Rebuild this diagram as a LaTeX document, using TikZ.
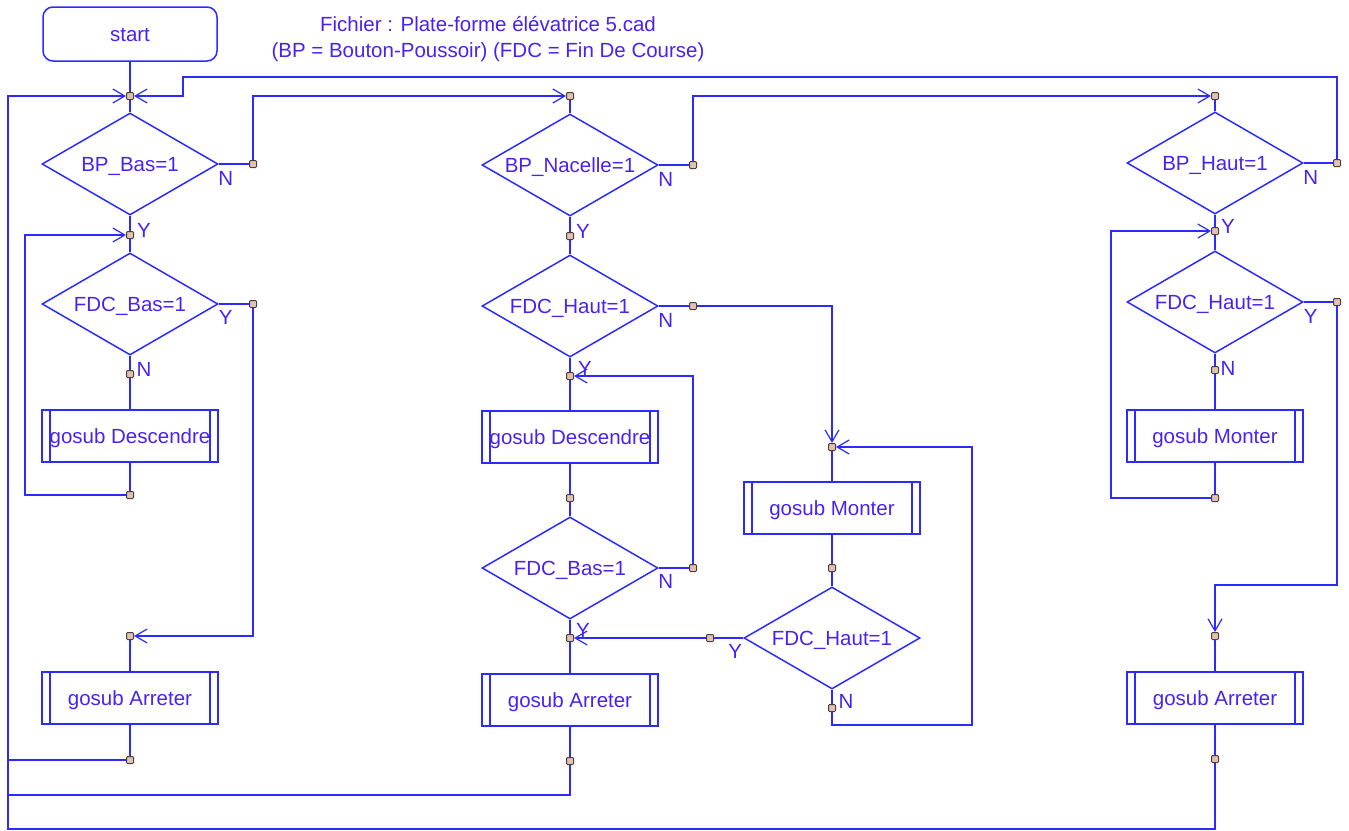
\documentclass[tikz,border=0pt]{standalone}
\usepackage{fontspec}
\setmainfont{Liberation Sans}
\usepackage{xcolor}
\definecolor{cadblue}{HTML}{2B2BFF}
\definecolor{cadtext}{HTML}{4A22F0}
\definecolor{dotfill}{HTML}{E0C2AE}
\definecolor{dotedge}{HTML}{4A4040}
\usepackage{tikz}
\usetikzlibrary{shapes.geometric, arrows.meta, positioning}
\tikzset{
  startbox/.style={rectangle, rounded corners=10pt, draw=cadblue, line width=1.5pt, text=cadtext,
                   minimum width=174pt, minimum height=54pt, inner sep=0pt, text height=14pt, text depth=0pt,
                   font=\fontsize{20.5}{24}\selectfont},
  decide/.style  ={diamond, aspect=1.72, draw=cadblue, line width=1.5pt, text=cadtext, inner sep=0pt,
                   minimum width=176pt, minimum height=102pt, text height=14pt, text depth=0pt,
                   font=\fontsize{20.5}{24}\selectfont},
  subbox/.style  ={rectangle, draw=cadblue, line width=1.5pt, text=cadtext, inner sep=0pt,
                   minimum width=176pt, minimum height=52pt, text height=14pt, text depth=0pt,
                   font=\fontsize{20.5}{24}\selectfont,
                   path picture={\draw[cadblue, line width=1.5pt]
                     ([xshift=8pt]path picture bounding box.north west) -- ([xshift=8pt]path picture bounding box.south west)
                     ([xshift=-8pt]path picture bounding box.north east) -- ([xshift=-8pt]path picture bounding box.south east);}},
  jdot/.style    ={rectangle, rounded corners=1pt, fill=dotfill, draw=dotedge, line width=1pt,
                   minimum size=7pt, inner sep=0pt},
  flow/.style    ={draw=cadblue, line width=1.5pt},
  flowarr/.style ={flow, -{Straight Barb[length=12pt, width=14pt, line width=1.2pt]}},
  yn/.style      ={text=cadtext, inner sep=0pt, font=\fontsize{20.5}{24}\selectfont},
  titletxt/.style={text=cadtext, align=center, inner sep=0pt, font=\fontsize{20.5}{26}\selectfont},
}

\begin{document}
\begin{tikzpicture}[x=1pt, y=-1pt]
  \useasboundingbox (0,0) rectangle (1349,830);

  \node[startbox] (start) at (130,34) {start};
  \node[titletxt] (title) at (488,39) {Fichier : Plate-forme élévatrice 5.cad\\(BP = Bouton-Poussoir) (FDC = Fin De Course)};

  % colonne gauche : descente
  \node[decide] (bpbas)   at (130,164) {BP\_Bas=1};
  \node[decide] (fdcbas)  at (130,304) {FDC\_Bas=1};
  \node[subbox] (desc1)   at (130,436) {gosub Descendre};
  \node[subbox] (arr1)    at (130,698) {gosub Arreter};

  % colonne du milieu : nacelle
  \node[decide] (nacelle) at (570,165) {BP\_Nacelle=1};
  \node[decide] (fdchaut1) at (570,306) {FDC\_Haut=1};
  \node[subbox] (desc2)   at (570,437) {gosub Descendre};
  \node[decide] (fdcbas2) at (570,568) {FDC\_Bas=1};
  \node[subbox] (arr2)    at (570,700) {gosub Arreter};
  \node[subbox] (monter1) at (832,508) {gosub Monter};
  \node[decide] (fdchaut2) at (832,638) {FDC\_Haut=1};

  % colonne droite : montée
  \node[decide] (bphaut)  at (1215,163) {BP\_Haut=1};
  \node[decide] (fdchaut3) at (1215,302) {FDC\_Haut=1};
  \node[subbox] (monter2) at (1215,436) {gosub Monter};
  \node[subbox] (arr3)    at (1215,698) {gosub Arreter};

  % points de jonction
  \foreach \n/\x/\y in {j1/130/96, j2/130/235, d1n/253/164, d2y/253/304, d2n/130/374, j3/130/495, j4/130/636, j5/130/760,
                        k1/570/96, k1n/693/165, k2y/570/236, k2n/693/306, k3/570/376, k4/570/498, k5n/693/568, k6/570/638, k7/570/761,
                        m1/832/447, m2/832/568, m3y/710/638, m3n/832/708,
                        r1/1215/96, r1n/1337/163, r2/1215/231, r2y/1337/302, r2n/1215/370, r3/1215/498, r4/1215/636, r5/1215/759}
    \node[jdot] (\n) at (\x,\y) {};

  % liaisons colonne gauche
  \draw[flow] (start) -- (j1) -- (bpbas.north);
  \draw[flow] (bpbas.east) -- (d1n);
  \draw[flowarr] (d1n) |- (k1);
  \draw[flow] (bpbas.south) -- (j2) -- (fdcbas.north);
  \draw[flow] (fdcbas.east) -- (d2y);
  \draw[flowarr] (d2y) |- (j4);
  \draw[flow] (fdcbas.south) -- (d2n) -- (desc1.north);
  \draw[flow] (desc1.south) -- (j3);
  \draw[flowarr] (j3) -| (25,235) -- (j2);
  \draw[flow] (j4) -- (arr1.north);
  \draw[flow] (arr1.south) -- (j5);

  % retour général par la gauche
  \draw[flowarr] (r5) |- (8,829) -- (8,96) -- (j1);
  \draw[flow] (j5) -- (8,760);
  \draw[flow] (k7) |- (8,795);

  % liaisons colonne du milieu
  \draw[flow] (k1) -- (nacelle.north);
  \draw[flow] (nacelle.east) -- (k1n);
  \draw[flowarr] (k1n) |- (r1);
  \draw[flow] (nacelle.south) -- (k2y) -- (fdchaut1.north);
  \draw[flow] (fdchaut1.east) -- (k2n);
  \draw[flowarr] (k2n) -| (m1);
  \draw[flow] (fdchaut1.south) -- (k3) -- (desc2.north);
  \draw[flow] (desc2.south) -- (k4) -- (fdcbas2.north);
  \draw[flow] (fdcbas2.east) -- (k5n);
  \draw[flowarr] (k5n) |- (k3);
  \draw[flow] (fdcbas2.south) -- (k6) -- (arr2.north);
  \draw[flow] (arr2.south) -- (k7);
  \draw[flow] (m1) -- (monter1.north);
  \draw[flow] (monter1.south) -- (m2) -- (fdchaut2.north);
  \draw[flow] (fdchaut2.west) -- (m3y);
  \draw[flowarr] (m3y) -- (k6);
  \draw[flow] (fdchaut2.south) -- (m3n);
  \draw[flowarr] (m3n) |- (972,725) |- (m1);

  % liaisons colonne droite
  \draw[flow] (r1) -- (bphaut.north);
  \draw[flow] (bphaut.east) -- (r1n);
  \draw[flowarr] (r1n) |- (183,77) -- (183,96) -- (j1);
  \draw[flow] (bphaut.south) -- (r2) -- (fdchaut3.north);
  \draw[flow] (fdchaut3.east) -- (r2y);
  \draw[flowarr] (r2y) |- (1215,585) -- (r4);
  \draw[flow] (fdchaut3.south) -- (r2n) -- (monter2.north);
  \draw[flow] (monter2.south) -- (r3);
  \draw[flowarr] (r3) -| (1111,231) -- (r2);
  \draw[flow] (r4) -- (arr3.north);
  \draw[flow] (arr3.south) -- (r5);

  % étiquettes Y / N
  \node[yn] at ([xshift=7pt, yshift=-14pt]bpbas.east) {N};
  \node[yn] at ([xshift=14pt, yshift=-15pt]bpbas.south) {Y};
  \node[yn] at ([xshift=7pt, yshift=-13pt]fdcbas.east) {Y};
  \node[yn] at ([xshift=14pt, yshift=-14pt]fdcbas.south) {N};
  \node[yn] at ([xshift=7pt, yshift=-14pt]nacelle.east) {N};
  \node[yn] at ([xshift=13pt, yshift=-15pt]nacelle.south) {Y};
  \node[yn] at ([xshift=7pt, yshift=-14pt]fdchaut1.east) {N};
  \node[yn] at ([xshift=15pt, yshift=-11pt]fdchaut1.south) {Y};
  \node[yn] at ([xshift=7pt, yshift=-13pt]fdcbas2.east) {N};
  \node[yn] at ([xshift=13pt, yshift=-11pt]fdcbas2.south) {Y};
  \node[yn] at ([xshift=-8pt, yshift=-13pt]fdchaut2.west) {Y};
  \node[yn] at ([xshift=14pt, yshift=-12pt]fdchaut2.south) {N};
  \node[yn] at ([xshift=7pt, yshift=-14pt]bphaut.east) {N};
  \node[yn] at ([xshift=13pt, yshift=-12pt]bphaut.south) {Y};
  \node[yn] at ([xshift=7pt, yshift=-14pt]fdchaut3.east) {Y};
  \node[yn] at ([xshift=13pt, yshift=-15pt]fdchaut3.south) {N};
\end{tikzpicture}
\end{document}
